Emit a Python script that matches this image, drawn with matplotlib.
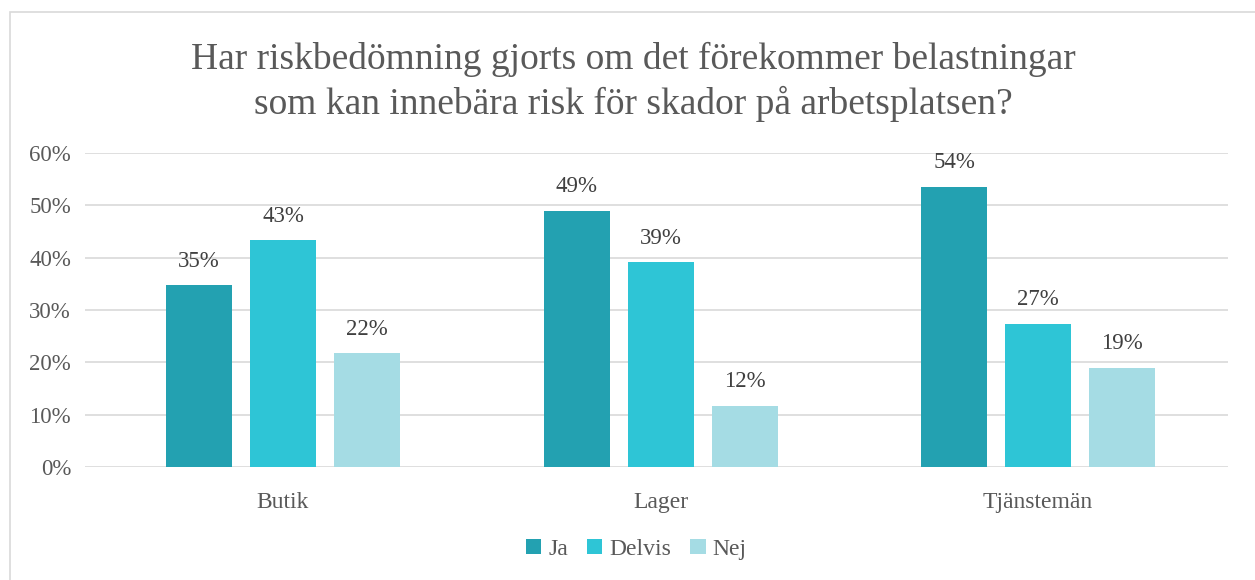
import numpy as np
import matplotlib
matplotlib.use('Agg')
import matplotlib.pyplot as plt
from matplotlib.patches import Rectangle

categories = ['Butik', 'Lager', 'Tjänstemän']
series = ['Ja', 'Delvis', 'Nej']
ja = [34.7, 48.9, 53.5]
delvis = [43.3, 39.1, 27.3]
nej = [21.7, 11.7, 18.9]
labels = [['35%', '49%', '54%'], ['43%', '39%', '27%'], ['22%', '12%', '19%']]
colors = ['#23A1B1', '#2EC5D6', '#A5DCE4']
title = 'Har riskbedömning gjorts om det förekommer belastningar\nsom kan innebära risk för skador på arbetsplatsen?'

plt.rcParams['font.family'] = ['Liberation Serif', 'DejaVu Serif']
text_color = '#595959'

fig = plt.figure(figsize=(12.55, 5.8), dpi=100)
ax = fig.add_axes([0.0677, 0.1948, 0.9108, 0.5414])

# chart frame
fig.patches.append(Rectangle((10 / 1255, -0.01), 1.02, 1 - 12 / 580 + 0.01,
                             transform=fig.transFigure, fill=False,
                             edgecolor='#D9D9D9', linewidth=1.2))

x = np.arange(len(categories))
width = 0.175
step = 0.2225
for i, (vals, name) in enumerate(zip([ja, delvis, nej], series)):
    pos = x + (i - 1) * step
    ax.bar(pos, vals, width, color=colors[i], label=name, zorder=3)
    for p, v, lab in zip(pos, vals, labels[i]):
        ax.annotate(lab, (p, v), xytext=(0, 13.5), textcoords='offset points',
                    ha='center', va='baseline', fontsize=16.5, color='#404040')

ax.set_xlim(-0.5245, 2.503)
ax.set_ylim(0, 60)
ax.set_yticks(range(0, 61, 10))
ax.set_yticklabels([f'{t}%' for t in range(0, 61, 10)])
ax.set_xticks(x)
ax.set_xticklabels(categories)
ax.tick_params(axis='both', length=0, labelcolor=text_color)
ax.tick_params(axis='x', pad=18, labelsize=17)
ax.tick_params(axis='y', pad=10, labelsize=16.5)
ax.grid(axis='y', color='#D9D9D9', linewidth=1.2, zorder=0)
for s in ax.spines.values():
    s.set_visible(False)

fig.text(0.505, 0.927, title, ha='center', va='top', fontsize=27,
         color=text_color, linespacing=1.3)

fig.legend(loc='center', bbox_to_anchor=(0.507, 0.053), ncol=3, frameon=False,
           fontsize=17, handlelength=0.65, handleheight=0.65, handletextpad=0.3,
           columnspacing=0.8, labelcolor=text_color)

fig.savefig('out.png', dpi=100)
